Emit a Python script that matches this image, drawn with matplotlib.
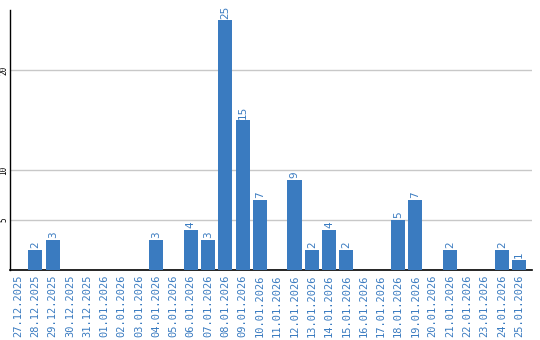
import matplotlib
matplotlib.use("Agg")
import matplotlib.pyplot as plt

dates = ["27.12.2025", "28.12.2025", "29.12.2025", "30.12.2025", "31.12.2025",
         "01.01.2026", "02.01.2026", "03.01.2026", "04.01.2026", "05.01.2026",
         "06.01.2026", "07.01.2026", "08.01.2026", "09.01.2026", "10.01.2026",
         "11.01.2026", "12.01.2026", "13.01.2026", "14.01.2026", "15.01.2026",
         "16.01.2026", "17.01.2026", "18.01.2026", "19.01.2026", "20.01.2026",
         "21.01.2026", "22.01.2026", "23.01.2026", "24.01.2026", "25.01.2026"]
values = [0, 2, 3, 0, 0, 0, 0, 0, 3, 0, 4, 3, 25, 15, 7, 0, 9, 2, 4, 2,
          0, 0, 5, 7, 0, 2, 0, 0, 2, 1]
yticks = [5, 10, 20]

bar_color = "#3a7bc0"
text_color = "#3a7bc0"

fig = plt.figure(figsize=(5.4, 3.4), dpi=100)
ax = fig.add_axes([10/540, 70/340, 522/540, 260/340])

x = list(range(len(dates)))
ax.bar(x, values, width=0.82, color=bar_color, zorder=3)
for xi, v in zip(x, values):
    if v > 0:
        ax.text(xi, v + 0.15, str(v), rotation=90, ha="center", va="bottom",
                color=text_color, fontsize=7.5, family="DejaVu Sans")

ax.set_xlim(-0.47, len(dates) - 0.25)
ax.set_ylim(0, 26)
ax.set_yticks(yticks)
ax.set_yticklabels([str(t) for t in yticks], rotation=90, va="center",
                   fontsize=5.5, family="DejaVu Sans Mono")
ax.yaxis.grid(True, color="#c8c8c8", linewidth=1, zorder=0)
ax.tick_params(axis="y", length=0, pad=1)
ax.set_xticks(x)
ax.set_xticklabels(dates, rotation=90, fontsize=7.5, color=text_color,
                   family="DejaVu Sans Mono")
ax.tick_params(axis="x", length=0, pad=3)
for s in ["top", "right"]:
    ax.spines[s].set_visible(False)
ax.spines["left"].set_color("black")
ax.spines["bottom"].set_color("black")
ax.spines["left"].set_linewidth(1)
ax.spines["bottom"].set_linewidth(1.2)

fig.savefig("out.png", dpi=100)
